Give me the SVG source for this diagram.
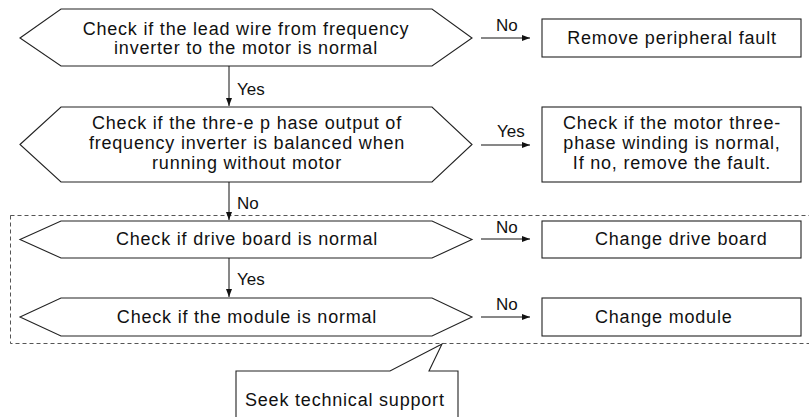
<svg xmlns="http://www.w3.org/2000/svg" width="809" height="417" viewBox="0 0 809 417">
<defs>
<marker id="ah" markerWidth="8" markerHeight="6" refX="8" refY="3" orient="auto" markerUnits="userSpaceOnUse">
<path d="M0,0 L8,3 L0,6 Z" fill="#111"/>
</marker>
<style>
.shape{fill:#fff;stroke:#222;stroke-width:1.1}
.t{font-family:"Liberation Sans",Arial,sans-serif;font-size:18px;fill:#111;letter-spacing:0.8px}
.c{text-anchor:middle}
.lbl{font-family:"Liberation Sans",Arial,sans-serif;font-size:17px;fill:#111}
.conn{stroke:#111;stroke-width:1;fill:none;marker-end:url(#ah)}
.dash{fill:none;stroke:#555;stroke-width:1;stroke-dasharray:4 3}
</style>
</defs>
<rect class="dash" x="10.5" y="215.5" width="805" height="128"/>
<g id="n1"><polygon class="shape" points="20,38 61,9 432,9 472,38 432,66 61,66"/>
<text class="t c" x="246" y="35">Check if the lead wire from frequency</text>
<text class="t c" x="246" y="54">inverter to the motor is normal</text></g>
<g id="b1"><rect class="shape" x="542" y="19" width="259" height="38"/>
<text class="t c" x="672" y="44">Remove peripheral fault</text></g>
<g id="n2"><polygon class="shape" points="20,144.5 61,107 432,107 472,144.5 432,182 61,182"/>
<text class="t c" x="247" y="129">Check if the thre-e p hase output of</text>
<text class="t c" x="247" y="149">frequency inverter is balanced when</text>
<text class="t c" x="247" y="169">running without motor</text></g>
<g id="b2"><rect class="shape" x="542" y="107" width="259" height="75"/>
<text class="t c" x="672" y="129">Check if the motor three-</text>
<text class="t c" x="672" y="149">phase winding is normal,</text>
<text class="t c" x="672" y="169">If no, remove the fault.</text></g>
<g id="n3"><polygon class="shape" points="20,239.5 61,221 432,221 472,239.5 432,258 61,258"/>
<text class="t c" x="247" y="245">Check if drive board is normal</text></g>
<g id="b3"><rect class="shape" x="542" y="221" width="259" height="37"/>
<text class="t" x="595" y="245">Change drive board</text></g>
<g id="n4"><polygon class="shape" points="20,317 61,298 432,298 472,317 432,336 61,336"/>
<text class="t c" x="247" y="323">Check if the module is normal</text></g>
<g id="b4"><rect class="shape" x="542" y="298" width="259" height="38"/>
<text class="t" x="595" y="323">Change module</text></g>
<g id="n5"><path class="shape" d="M236,420 L236,371 L390,371 L442,344 L429,371 L458,371 L458,420"/>
<text class="t" x="245" y="406">Seek technical support</text></g>
<g id="connectors">
<line class="conn" x1="481" y1="38" x2="530" y2="38"/>
<line class="conn" x1="481" y1="145" x2="530" y2="145"/>
<line class="conn" x1="481" y1="239" x2="530" y2="239"/>
<line class="conn" x1="481" y1="317" x2="530" y2="317"/>
<line class="conn" x1="229" y1="66" x2="229" y2="106"/>
<line class="conn" x1="229" y1="182" x2="229" y2="220"/>
<line class="conn" x1="229" y1="258" x2="229" y2="297"/>
<text class="lbl" x="496" y="31">No</text>
<text class="lbl" x="497" y="137">Yes</text>
<text class="lbl" x="496" y="233">No</text>
<text class="lbl" x="496" y="310">No</text>
<text class="lbl" x="237" y="95">Yes</text>
<text class="lbl" x="237" y="209">No</text>
<text class="lbl" x="237" y="285">Yes</text>
</g>
</svg>
